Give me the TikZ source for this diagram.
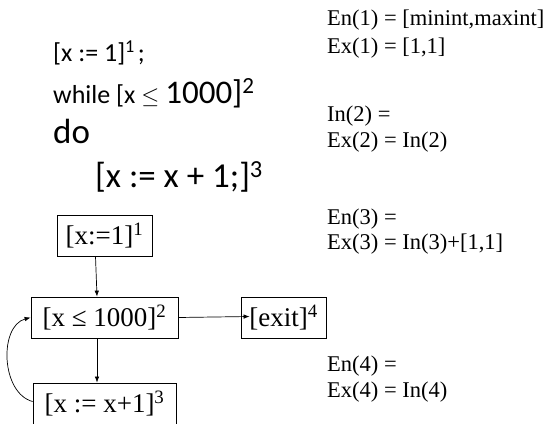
\documentclass[tikz,border=0pt]{standalone}
\usepackage{fontspec}
\setmainfont{Liberation Serif}
\newfontfamily\codefont{Carlito}
\usetikzlibrary{arrows.meta}

\tikzset{
  blk/.style={draw, line width=0.8pt, inner sep=0pt, font=\fontsize{27}{27}\selectfont},
  eqn/.style={anchor=base west, inner sep=0pt, font=\fontsize{22.5}{22.5}\selectfont},
  prog/.style={anchor=base west, inner sep=0pt},
  flow/.style={line width=0.7pt, -{Latex[length=6pt,width=4.5pt]}}
}

\begin{document}
\begin{tikzpicture}[x=1pt, y=-1pt]

  \useasboundingbox (0,0) rectangle (543,423);

  % Program text
  \node[prog] (p1) at (53,61.5) {\codefont\fontsize{26}{26}\selectfont [x := 1]\textsuperscript{1}\hspace{3pt};};
  \node[prog] (p2) at (53,103)  {\codefont\fontsize{26}{26}\selectfont while [x \resizebox{18pt}{!}{$\leq$}\hspace{6pt}{\fontsize{33}{33}\selectfont 1000]\textsuperscript{2}}};
  \node[prog] (p3) at (53,143)  {\codefont\fontsize{35}{35}\selectfont do};
  \node[prog] (p4) at (95,187)  {\codefont\fontsize{35}{35}\selectfont [x := x + 1;]\textsuperscript{3}};

  % Blocks
  \node[blk, minimum width=95pt, minimum height=41pt]  (b1) at (104.5,235.5) {[x:=1]\textsuperscript{1}};
  \node[blk, minimum width=147pt, minimum height=41pt] (b2) at (104.5,317.5) {[x ≤ 1000]\textsuperscript{2}};
  \node[blk, minimum width=85pt, minimum height=41pt]  (b4) at (283.5,317.5) {[exit]\textsuperscript{4}};
  \node[blk, minimum width=143pt, minimum height=41pt] (b3) at (104.5,403.5) {[x := x+1]\textsuperscript{3}};

  % Edges
  \draw[flow] ([xshift=-9pt]b1.south) -- ([xshift=-7.5pt]b2.north);
  \draw[flow] ([xshift=-7.5pt]b2.south) -- ([xshift=-7.5pt]b3.north);
  \draw[flow] (b2.east) -- ([xshift=9pt,yshift=1pt]b4.west);
  \draw[flow] ([yshift=2pt]b3.west) to[out=165, in=195] (b2.west);

  % Equations
  \node[eqn] (en1) at (327,25)  {En(1) = [minint,maxint]};
  \node[eqn] (ex1) at (327,53)  {Ex(1) = [1,1]};
  \node[eqn] (in2) at (327,121) {In(2) =};
  \node[eqn] (ex2) at (327,147) {Ex(2) = In(2)};
  \node[eqn] (en3) at (327,224) {En(3) =};
  \node[eqn] (ex3) at (327,249) {Ex(3) = In(3)+[1,1]};
  \node[eqn] (en4) at (327,371) {En(4) =};
  \node[eqn] (ex4) at (327,397) {Ex(4) = In(4)};

\end{tikzpicture}
\end{document}
